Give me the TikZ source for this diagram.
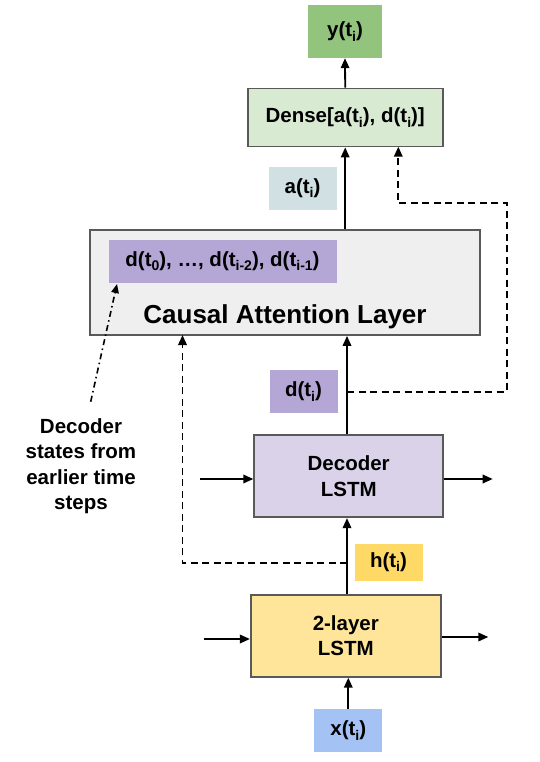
\documentclass[tikz,border=0pt]{standalone}
\usepackage{fontspec}
\setmainfont{Liberation Sans}
\usepackage{xcolor}
\usepackage{tikz}
\usetikzlibrary{arrows.meta}
\usetikzlibrary{positioning}
\definecolor{ygreen}{HTML}{93C47D}
\definecolor{dgreen}{HTML}{D9EAD3}
\definecolor{agray}{HTML}{D0E0E3}
\definecolor{cgray}{HTML}{EFEFEF}
\definecolor{dpurple}{HTML}{B4A7D6}
\definecolor{lpurple}{HTML}{D9D2E9}
\definecolor{hyellow}{HTML}{FFD966}
\definecolor{lyellow}{HTML}{FFE599}
\definecolor{xblue}{HTML}{A4C2F4}
\definecolor{bordergray}{HTML}{595959}
\newcommand{\ssub}[1]{\raisebox{-0.22em}{\fontsize{14}{14}\selectfont #1}}
\tikzset{
    layerbox/.style = {rectangle, draw=bordergray, line width=1.8pt, align=center, inner sep=0pt},
    tagbox/.style = {rectangle, inner sep=0pt, align=center},
}

\begin{document}
\begin{tikzpicture}[
	x=1pt, y=-1pt,
	font=\bfseries\fontsize{20.5}{25.5}\selectfont
]
\tikzset{
    arr/.style = {-{Triangle[length=10pt,width=8.5pt]}, line width=1.8pt},
    dasharr/.style = {-{Triangle[length=10pt,width=8.5pt]}, line width=1.8pt, dash pattern=on 7pt off 4.5pt},
    dotarr/.style = {-{Triangle[length=9pt,width=7.5pt]}, line width=1.6pt, dash pattern=on 6pt off 3.5pt on 1.5pt off 3.5pt}
}
\useasboundingbox (0,0) rectangle (539,762);
\node[tagbox, fill=ygreen, minimum width=74pt, minimum height=53pt] at (345,31.5) (y) {y(t\ssub{i})};
\node[layerbox, fill=dgreen, minimum width=195pt, minimum height=58pt] at (345.2,117.5) (dense) {Dense[a(t\ssub{i}), d(t\ssub{i})]};
\node[tagbox, fill=agray, minimum width=68pt, minimum height=43pt] at (302.5,188.3) (at) {a(t\ssub{i})};
\node[layerbox, fill=cgray, minimum width=390pt, minimum height=105pt] at (285,282.5) (causal) {};
\node[tagbox, fill=dpurple, minimum width=228pt, minimum height=43pt] at (222.5,261.3) (past) {d(t\ssub{0}), \dots, d(t\ssub{i-2}), d(t\ssub{i-1})};
\node[anchor=base, font=\bfseries\fontsize{26}{30}\selectfont] at (285,323.3) (causaltext) {Causal Attention Layer};
\node[tagbox, fill=dpurple, minimum width=68pt, minimum height=43pt] at (303.5,391.7) (dt) {d(t\ssub{i})};
\node[layerbox, fill=lpurple, minimum width=189pt, minimum height=82pt] at (348.7,476.2) (decoder) {Decoder\\LSTM};
\node[tagbox, fill=hyellow, minimum width=68pt, minimum height=37pt] at (388.5,562) (ht) {h(t\ssub{i})};
\node[layerbox, fill=lyellow, minimum width=190pt, minimum height=82pt] at (345.8,635.8) (lstm) {2-layer\\LSTM};
\node[tagbox, fill=xblue, minimum width=68pt, minimum height=43pt] at (348.3,730.8) (xt) {x(t\ssub{i})};
\node[align=center] at (81,466) (note) {Decoder\\states from\\earlier time\\steps};
%
\coordinate (decin) at (200,479);
\coordinate (decout) at (492.7,479);
\coordinate (lstmin) at (204.3,639);
\coordinate (lstmout) at (488.3,637);
\coordinate (tapd) at (347,391.7);
\coordinate (turnr) at (506.7,203.3);
\coordinate (densein) at (398.3,146.7);
\coordinate (taph) at (347,563.3);
\coordinate (causalin) at (182.5,335);
\coordinate (notetop) at (90.7,401.7);
\coordinate (pastend) at (117,284);
%
\draw[arr] (xt.north) -- (lstm.south -| xt.north);
\draw[arr] (lstm.north -| taph) -- (decoder.south -| taph);
\draw[arr] (decoder.north -| tapd) -- (causal.south -| tapd);
\draw[arr] (dense.south |- causal.north) -- (dense.south);
\draw[arr] (dense.north) -- (y.south);
%
\draw[arr] (decin) -- (decoder.west |- decin);
\draw[arr] (decoder.east |- decout) -- (decout);
\draw[arr] (lstmin) -- (lstm.west |- lstmin);
\draw[arr] (lstm.east |- lstmout) -- (lstmout);
%
\draw[dasharr] (tapd) -- (turnr |- tapd) -- (turnr) -- (densein |- turnr) -- (densein);
\draw[dasharr] (taph) -- (causalin |- taph) -- (causalin);
\draw[dotarr] (notetop) -- (pastend);
\end{tikzpicture}
\end{document}
